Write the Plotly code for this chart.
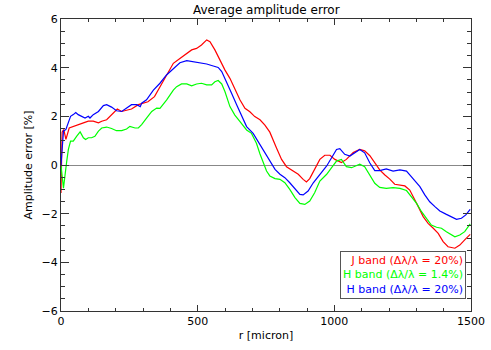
import plotly.graph_objects as go

# ---- data ----
r_red = [0, 4, 10, 18, 30, 45, 63, 82, 100, 118, 137, 149, 167, 185, 206, 222, 240, 258, 283, 300,
         318, 342, 362, 386, 411, 435, 460, 478, 496, 514, 533, 545, 563, 581, 600, 618, 636, 655,
         673, 691, 709, 728, 746, 764, 788, 807, 825, 849, 868, 886, 898, 910, 928, 947, 965, 984,
         1002, 1026, 1044, 1069, 1093, 1111, 1130, 1148, 1166, 1185, 1203, 1221, 1240, 1258, 1276,
         1289, 1307, 1325, 1343, 1362, 1380, 1398, 1416, 1441, 1459, 1477, 1497]
v_red = [-1.15, 1.35, 1.46, 1.05, 1.52, 1.59, 1.66, 1.73, 1.80, 1.80, 1.73, 1.80, 1.86, 2.07, 2.30, 2.20,
         2.25, 2.30, 2.48, 2.53, 2.60, 2.81, 3.20, 3.72, 4.18, 4.38, 4.59, 4.73, 4.79, 4.93, 5.14, 5.07,
         4.73, 4.32, 3.90, 3.56, 3.15, 2.67, 2.33, 2.19, 1.99, 1.86, 1.64, 1.35, 0.71, 0.23, -0.07,
         -0.25, -0.38, -0.59, -0.70, -0.56, -0.18, 0.23, 0.40, 0.40, 0.23, 0.10, 0.23, 0.51, 0.64,
         0.58, 0.38, 0.07, -0.20, -0.41, -0.58, -0.79, -0.82, -0.86, -1.03, -1.30, -1.71, -2.12,
         -2.40, -2.60, -2.81, -3.15, -3.36, -3.42, -3.29, -3.08, -2.85]

r_green = [0, 9, 21, 27, 35, 45, 57, 70, 82, 90, 100, 112, 124, 137, 149, 167, 185, 203, 222, 240,
           252, 271, 283, 295, 313, 332, 350, 362, 386, 411, 423, 441, 460, 478, 496, 514, 533, 551,
           563, 575, 588, 600, 618, 636, 655, 679, 697, 715, 728, 740, 752, 764, 783, 801, 819, 837,
           856, 874, 892, 910, 928, 947, 972, 990, 1008, 1026, 1044, 1063, 1081, 1093, 1111, 1130,
           1148, 1166, 1190, 1215, 1240, 1264, 1282, 1301, 1319, 1337, 1355, 1374, 1392, 1410, 1429,
           1441, 1459, 1477, 1497]
v_green = [0.0, -0.95, 0.16, 0.64, 0.98, 0.98, 1.18, 1.36, 1.12, 1.05, 1.12, 1.12, 1.18, 1.39, 1.52,
           1.56, 1.50, 1.41, 1.41, 1.48, 1.59, 1.52, 1.52, 1.66, 1.93, 2.20, 2.34, 2.33, 2.67, 3.08,
           3.22, 3.33, 3.33, 3.25, 3.33, 3.36, 3.29, 3.29, 3.42, 3.47, 3.33, 3.01, 2.40, 2.05, 1.78,
           1.44, 1.30, 0.89, 0.45, 0.07, -0.25, -0.45, -0.56, -0.59, -0.73, -1.00, -1.34, -1.58,
           -1.62, -1.48, -1.14, -0.66, -0.38, -0.11, 0.16, 0.23, -0.07, -0.11, -0.04, 0.03, -0.07,
           -0.41, -0.75, -0.92, -0.96, -0.93, -0.96, -1.05, -1.30, -1.58, -1.92, -2.19, -2.47, -2.56,
           -2.60, -2.74, -2.88, -2.95, -2.88, -2.74, -2.42]

r_blue = [0, 9, 18, 27, 35, 45, 54, 63, 76, 88, 100, 106, 118, 137, 155, 167, 185, 203, 222, 240,
          258, 277, 290, 295, 313, 338, 362, 386, 411, 435, 460, 484, 508, 533, 557, 575, 588, 606,
          624, 643, 661, 679, 703, 722, 740, 764, 783, 801, 819, 837, 856, 874, 886, 904, 923, 947,
          972, 990, 1008, 1020, 1038, 1057, 1075, 1093, 1111, 1130, 1148, 1166, 1190, 1215, 1240,
          1264, 1276, 1295, 1313, 1331, 1349, 1368, 1386, 1410, 1429, 1447, 1465, 1481, 1497]
v_blue = [0.0, 1.39, 1.46, 1.73, 2.00, 2.07, 2.16, 2.07, 2.00, 1.93, 2.00, 1.93, 2.07, 2.20, 2.44,
          2.48, 2.38, 2.23, 2.20, 2.34, 2.48, 2.48, 2.40, 2.54, 2.68, 3.08, 3.36, 3.70, 3.97, 4.20,
          4.29, 4.25, 4.20, 4.15, 4.07, 4.01, 3.84, 3.42, 2.95, 2.47, 1.99, 1.58, 1.30, 0.94, 0.62,
          0.18, -0.18, -0.38, -0.52, -0.73, -1.00, -1.21, -1.23, -1.07, -0.73, -0.38, -0.04, 0.30,
          0.64, 0.67, 0.44, 0.37, 0.51, 0.64, 0.50, 0.08, -0.23, -0.23, -0.16, -0.25, -0.20, -0.25,
          -0.41, -0.68, -0.89, -1.23, -1.51, -1.71, -1.89, -2.03, -2.12, -2.23, -2.19, -2.05, -1.82]

legend_labels = ["J band (Δλ/λ = 20%)", "H band (Δλ/λ = 1.4%)", "H band (Δλ/λ = 20%)"]
colors = ["#FF0000", "#00FF00", "#0000FF"]

title = "Average amplitude error"
x_title = "r [micron]"
y_title = "Amplitude error [%]"

FONT = "DejaVu Sans"

fig = go.Figure()
for rr, vv, c, name in [(r_red, v_red, colors[0], legend_labels[0]),
                        (r_green, v_green, colors[1], legend_labels[1]),
                        (r_blue, v_blue, colors[2], legend_labels[2])]:
    fig.add_trace(go.Scatter(x=rr, y=vv, mode="lines", name=name,
                             line=dict(color=c, width=1.2), showlegend=False))

legend_text = "<br>".join(
    f"<span style='color:{c}'>{t}</span>" for t, c in zip(legend_labels, colors))
fig.add_annotation(xref="paper", yref="paper", x=0.987, y=0.041,
                   xanchor="right", yanchor="bottom", text=legend_text, align="right",
                   showarrow=False, bordercolor="#555555", borderwidth=1, borderpad=2,
                   bgcolor="white", font=dict(family=FONT, size=11))

fig.add_annotation(xref="paper", yref="paper", x=0.5, y=1.0, yshift=9,
                   xanchor="center", yanchor="middle", text=title, showarrow=False,
                   font=dict(family=FONT, size=12, color="black"))

fig.update_layout(
    width=491, height=350,
    margin=dict(l=61, r=20, t=19, b=39, autoexpand=False),
    paper_bgcolor="white", plot_bgcolor="white",
    font=dict(family=FONT, size=11, color="black"),
)
fig.update_xaxes(range=[0, 1500], tickvals=[0, 500, 1000, 1500], ticks="inside", ticklen=6,
                 tickcolor="#333333", showline=True, linecolor="#333333", linewidth=1,
                 mirror="allticks", showgrid=False, zeroline=False, automargin=False,
                 minor=dict(dtick=100, ticks="inside", ticklen=3, tickcolor="#333333"),
                 title=dict(text=x_title, standoff=4, font=dict(family=FONT, size=11)),
                 tickfont=dict(family=FONT, size=11))
fig.update_yaxes(range=[-6, 6], dtick=2, ticks="inside", ticklen=8,
                 tickcolor="#333333", showline=True, linecolor="#333333", linewidth=1,
                 mirror="allticks", showgrid=False, zeroline=True, zerolinecolor="#888888",
                 zerolinewidth=1, automargin=False,
                 minor=dict(dtick=0.5, ticks="inside", ticklen=4, tickcolor="#333333"),
                 title=dict(text=y_title, standoff=6, font=dict(family=FONT, size=11)),
                 tickfont=dict(family=FONT, size=11))

# remove the page's default body margin so the figure fills the window exactly
fig.write_html("out.html", config={"displayModeBar": False},
               post_script="document.body.style.margin='0';")
